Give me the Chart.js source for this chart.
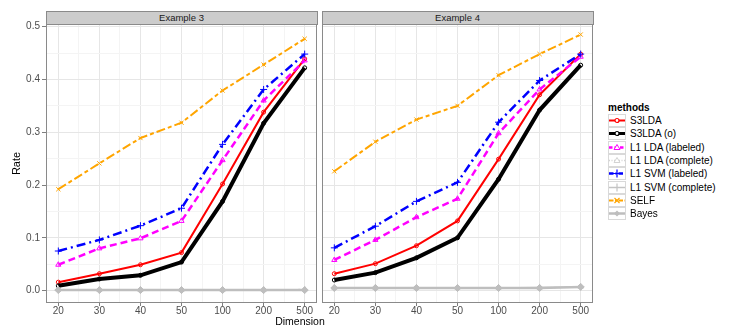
<!DOCTYPE html>
<html>
<head>
<meta charset="utf-8">
<script src="https://cdn.jsdelivr.net/npm/chart.js@4.4.0/dist/chart.umd.min.js"></script>
<style>
    body { margin: 0; background: #fff; }
    #wrap { position: relative; width: 747px; height: 332px; font-family: "Liberation Sans", Arial, sans-serif; }
    canvas { position: absolute; }
    .strip { position: absolute; top: 11px; height: 14px; box-sizing: border-box; background: #cccccc; border: 1px solid #8a8a8a;
        font-size: 9.5px; line-height: 12px; text-align: center; color: #1a1a1a; }
    #xtitle { position: absolute; left: 250px; width: 100px; top: 315px; line-height: 12px; text-align: center; font-size: 10.5px; color: #000; }
    #legend { position: absolute; left: 608px; top: 101px; font-size: 10px; color: #000; }
    #legend .ttl { font-weight: bold; height: 13px; line-height: 13px; }
    #legend .row { height: 13.3px; display: flex; align-items: center; }
    #legend svg { display: block; margin-right: 4px; }
</style>
</head>
<body>
<div id="wrap">
    <div class="strip" style="left:45.5px;width:272px;">Example 3</div>
    <div class="strip" style="left:321.5px;width:272px;">Example 4</div>
    <canvas id="ex3" width="325" height="318" style="left:0;top:14px;"></canvas>
    <canvas id="ex4" width="290" height="318" style="left:310px;top:14px;"></canvas>
    <div id="xtitle">Dimension</div>
    <div id="legend"></div>
</div>
<script>
var dims = ['20', '30', '40', '50', '100', '200', '500'];
var methodNames = ['S3LDA', 'S3LDA (o)', 'L1 LDA (labeled)', 'L1 LDA (complete)', 'L1 SVM (labeled)', 'L1 SVM (complete)', 'SELF', 'Bayes'];
var yLabels = [0, 0.1, 0.2, 0.3, 0.4, 0.5];

// Example 3
var ex3S3lda = [0.016, 0.032, 0.049, 0.072, 0.202, 0.338, 0.439];
var ex3S3ldaO = [0.009, 0.022, 0.029, 0.054, 0.169, 0.317, 0.422];
var ex3LdaLab = [0.049, 0.080, 0.099, 0.132, 0.247, 0.360, 0.436];
var ex3LdaComp = [0.002, 0.001, 0.001, 0.001, 0.001, 0.001, 0.002];
var ex3SvmLab = [0.075, 0.096, 0.123, 0.156, 0.277, 0.381, 0.448];
var ex3SvmComp = [0.001, 0.001, 0.001, 0.001, 0.001, 0.001, 0.001];
var ex3Self = [0.192, 0.241, 0.289, 0.318, 0.379, 0.428, 0.477];
var ex3Bayes = [0.001, 0.001, 0.001, 0.001, 0.001, 0.001, 0.001];

// Example 4
var ex4S3lda = [0.032, 0.051, 0.085, 0.132, 0.249, 0.371, 0.448];
var ex4S3ldaO = [0.020, 0.034, 0.062, 0.100, 0.211, 0.342, 0.427];
var ex4LdaLab = [0.058, 0.096, 0.139, 0.174, 0.298, 0.381, 0.443];
var ex4LdaComp = [0.005, 0.005, 0.005, 0.005, 0.005, 0.005, 0.007];
var ex4SvmLab = [0.081, 0.122, 0.169, 0.205, 0.319, 0.398, 0.448];
var ex4SvmComp = [0.005, 0.005, 0.005, 0.005, 0.005, 0.006, 0.007];
var ex4Self = [0.226, 0.282, 0.324, 0.350, 0.408, 0.448, 0.485];
var ex4Bayes = [0.005, 0.005, 0.005, 0.005, 0.005, 0.005, 0.007];

var styles = [
    { color: '#ff0000', width: 2, dash: [], point: 'circle', r: 2, fill: false },
    { color: '#000000', width: 4, dash: [], point: 'circle', r: 2, fill: false },
    { color: '#ff00ff', width: 2.5, dash: [7, 4], point: 'triangle', r: 3, fill: false },
    { color: '#d3d3d3', width: 1.5, dash: [2, 3], point: 'triangle', r: 3, fill: false },
    { color: '#0000ff', width: 2.5, dash: [9, 4, 2, 4], point: 'cross', r: 3.5, fill: false },
    { color: '#c4c4c4', width: 1.5, dash: [], point: 'cross', r: 3.5, fill: false },
    { color: '#ffa500', width: 2, dash: [9, 3, 4, 3], point: 'crossRot', r: 3, fill: false },
    { color: '#bebebe', width: 2.5, dash: [], point: 'rectRot', r: 3.5, fill: true }
];

function isMajor(v, step) {
    return Math.abs(v / step - Math.round(v / step)) < 1e-6;
}

function buildDatasets(series) {
    return series.map(function (vals, i) {
        var s = styles[i];
        return {
            label: methodNames[i],
            data: vals.map(function (v, j) { return { x: j, y: v }; }),
            borderColor: s.color,
            borderWidth: s.width,
            borderDash: s.dash,
            pointStyle: s.point,
            pointRadius: s.r,
            pointBorderColor: s.color,
            pointBorderWidth: 1,
            pointBackgroundColor: s.fill ? s.color : 'rgba(255,255,255,0)',
            order: series.length - i,
            tension: 0
        };
    });
}

var panelBorder = {
    id: 'panelBorder',
    afterDraw: function (chart) {
        var a = chart.chartArea, ctx = chart.ctx;
        ctx.save();
        ctx.strokeStyle = '#8a8a8a';
        ctx.lineWidth = 1;
        ctx.strokeRect(Math.round(a.left) + 0.5, Math.round(a.top) + 0.5, Math.round(a.right - a.left) - 1, Math.round(a.bottom - a.top) - 1);
        ctx.restore();
    }
};

function makeChart(id, series, showY, pad) {
    return new Chart(document.getElementById(id), {
        type: 'line',
        data: { datasets: buildDatasets(series) },
        options: {
            responsive: false,
            animation: false,
            devicePixelRatio: 1,
            layout: { padding: pad },
            plugins: { legend: { display: false }, tooltip: { enabled: false } },
            scales: {
                x: {
                    type: 'linear',
                    min: -0.3,
                    max: 6.3,
                    afterBuildTicks: function (scale) {
                        var t = [];
                        dims.forEach(function (d, i) {
                            t.push({ value: i });
                            if (i < dims.length - 1) t.push({ value: i + 0.5 });
                        });
                        scale.ticks = t;
                    },
                    afterFit: function (scale) { scale.height = 29; },
                    border: { display: false },
                    grid: {
                        color: function (c) { return isMajor(c.tick.value, 1) ? '#e6e6e6' : '#f4f4f4'; },
                        tickColor: function (c) { return isMajor(c.tick.value, 1) ? '#7f7f7f' : 'rgba(0,0,0,0)'; },
                        tickLength: 3,
                        lineWidth: 1
                    },
                    ticks: {
                        autoSkip: false,
                        maxRotation: 0,
                        padding: -1,
                        color: '#4d4d4d',
                        font: { family: '"Liberation Sans", Arial, sans-serif', size: 10 },
                        callback: function (v) { return isMajor(v, 1) ? dims[Math.round(v)] : ''; }
                    }
                },
                y: {
                    min: -0.0235,
                    max: 0.505,
                    afterBuildTicks: function (scale) {
                        var t = [];
                        yLabels.forEach(function (v, i) {
                            t.push({ value: v });
                            if (i < yLabels.length - 1) t.push({ value: (v + yLabels[i + 1]) / 2 });
                        });
                        scale.ticks = t;
                    },
                    afterFit: function (scale) { scale.width = showY ? 46 : 0; },
                    border: { display: false },
                    grid: {
                        color: function (c) { return isMajor(c.tick.value, 0.1) ? '#e6e6e6' : '#f4f4f4'; },
                        tickColor: function (c) { return isMajor(c.tick.value, 0.1) ? '#7f7f7f' : 'rgba(0,0,0,0)'; },
                        drawTicks: showY,
                        tickLength: 4,
                        lineWidth: 1
                    },
                    title: {
                        display: showY,
                        text: 'Rate',
                        color: '#000',
                        padding: { top: 10, bottom: 4 },
                        font: { family: '"Liberation Sans", Arial, sans-serif', size: 11 }
                    },
                    ticks: {
                        display: showY,
                        padding: 2,
                        color: '#4d4d4d',
                        font: { family: '"Liberation Sans", Arial, sans-serif', size: 10 },
                        callback: function (v) { return isMajor(v, 0.1) ? v.toFixed(1) : ''; }
                    }
                }
            }
        },
        plugins: [panelBorder]
    });
}

makeChart('ex3', [ex3S3lda, ex3S3ldaO, ex3LdaLab, ex3LdaComp, ex3SvmLab, ex3SvmComp, ex3Self, ex3Bayes], true,
    { top: 10, right: 8, left: 0, bottom: 0 });
makeChart('ex4', [ex4S3lda, ex4S3ldaO, ex4LdaLab, ex4LdaComp, ex4SvmLab, ex4SvmComp, ex4Self, ex4Bayes], false,
    { top: 10, right: 7, left: 12, bottom: 0 });

// legend, ggplot style keys
var legend = document.getElementById('legend');
var html = '<div class="ttl">methods</div>';
methodNames.forEach(function (name, i) {
    var s = styles[i];
    var mk = '';
    var cx = 9, cy = 6.5;
    if (s.point == 'circle') mk = '<circle cx="' + cx + '" cy="' + cy + '" r="2" fill="' + (s.fill ? s.color : '#fff') + '" stroke="' + s.color + '" stroke-width="1.2"/>';
    if (s.point == 'triangle') mk = '<polygon points="9,3.5 12,8.5 6,8.5" fill="' + (s.fill ? s.color : '#fff') + '" stroke="' + s.color + '" stroke-width="1"/>';
    if (s.point == 'cross') mk = '<path d="M9 2.5V10.5M5 6.5H13" stroke="' + s.color + '" stroke-width="1.2"/>';
    if (s.point == 'crossRot') mk = '<path d="M6.5 4L11.5 9M11.5 4L6.5 9" stroke="' + s.color + '" stroke-width="1.2"/>';
    if (s.point == 'rectRot') mk = '<polygon points="9,3.5 12,6.5 9,9.5 6,6.5" fill="' + s.color + '"/>';
    html += '<div class="row"><svg width="18" height="13">' +
        '<rect x="0.5" y="0.5" width="17" height="12" fill="#fff" stroke="#d9d9d9"/>' +
        '<line x1="1" y1="6.5" x2="17" y2="6.5" stroke="' + s.color + '" stroke-width="' + Math.min(s.width, 3) + '"' +
        (s.dash.length ? ' stroke-dasharray="' + s.dash.map(function (d) { return d / 2; }).join(',') + '"' : '') + '/>' +
        mk + '</svg>' + name + '</div>';
});
legend.innerHTML = html;
</script>
</body>
</html>
